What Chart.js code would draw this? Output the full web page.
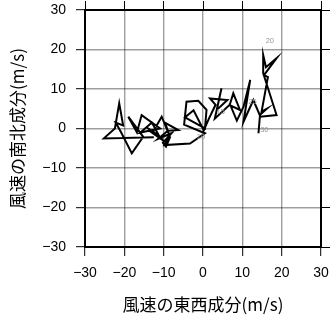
<!DOCTYPE html>
<html><head><meta charset="utf-8">
<script src="https://cdn.jsdelivr.net/npm/chart.js@4"></script>
<style>html,body{margin:0;padding:0;background:#fff}</style>
</head><body>
<canvas id="c" width="331" height="318"></canvas>
<script>
// 風速の東西成分 (u) と南北成分 (v), m/s
const uWind = [-12.5,-25.2,-22.4,-21.3,-20.3,-22.2,-20.8,-18.1,-15.2,-19.0,-16.8,-15.6,-10.9,-15.9,-13.0,-11.2,-14.2,-10.2,-13.6,-9.6,-12.8,-10.5,-8.6,-9.6,-6.3,-9.0,-11.4,-8.0,-10.2,-9.4,-8.3,-9.8,-3.3,0.5,-4.8,-4.2,-1.2,0.9,0.5,-4.6,-2.4,0.2,1.5,3.2,1.8,6.2,3.5,4.7,3.0,6.8,7.7,9.4,7.0,8.6,10.3,12.0,10.3,12.8,14.6,18.7,15.3,15.3,16.0,18.7,15.5,16.5,14.9,16.2,14.5,14.1];
const vWind = [-2.2,-2.5,0.0,6.4,0.8,1.5,-1.0,-6.3,-2.1,3.0,-1.0,3.4,0.0,-1.0,1.5,-1.8,0.2,-2.8,-0.6,-3.4,-1.0,3.0,-1.6,1.4,-0.4,-0.6,-2.6,-1.2,-3.6,-4.6,-2.0,-4.2,-3.8,-1.2,1.0,6.8,7.0,4.7,0.0,2.8,4.6,-0.5,2.5,6.0,7.6,7.2,4.7,10.2,2.5,6.0,8.9,4.7,5.8,2.0,5.5,12.3,1.7,7.2,3.0,3.4,14.0,18.6,15.5,17.8,13.5,13.0,4.3,5.0,3.5,-1.2];
const tickValues = [-30,-20,-10,0,10,20,30];
const markText = ['10','15','20','25','30'];
const markU = [-0.5,4.5,17.0,12.6,15.6];
const markV = [-2.2,4.2,22.2,6.8,-0.4];

const points = uWind.map((u,i)=>({x:u,y:vWind[i]}));
const fmt = v => String(v).replace('-', '\u2212');

const markPlugin = {
  id:'marks',
  afterDatasetsDraw(chart){
    const {ctx, scales:{x,y}} = chart;
    ctx.save();
    ctx.font = '7.5px "Liberation Sans"';
    ctx.fillStyle = '#999';
    ctx.textAlign = 'center';
    ctx.textBaseline = 'middle';
    markText.forEach((t,i)=>ctx.fillText(t, x.getPixelForValue(markU[i]), y.getPixelForValue(markV[i])));
    ctx.restore();
  }
};

const tickFont = {family:'"Liberation Sans", Arial, sans-serif', size:14};
const titleFont = {family:'"Noto Sans CJK JP", sans-serif', size:17};
const mainGrid = {color:'rgba(0,0,0,0.38)', lineWidth:1.4, tickColor:'#000', tickWidth:1, tickLength:9};
const sideGrid = {drawOnChartArea:false, color:'#000', lineWidth:1, tickLength:9};
const border = {display:true, color:'#000', width:2};
const noPad = s => { s.paddingLeft = 0; s.paddingRight = 0; s.paddingTop = 0; s.paddingBottom = 0; };

new Chart(document.getElementById('c'), {
  type:'scatter',
  data:{datasets:[{data:points, showLine:true, borderColor:'#000', borderWidth:2, pointRadius:0, tension:0, fill:false}]},
  options:{
    responsive:false, animation:false, devicePixelRatio:1,
    layout:{padding:0},
    plugins:{legend:{display:false}, tooltip:{enabled:false}},
    scales:{
      x:{type:'linear', position:'bottom', min:-30, max:30,
        afterBuildTicks:s=>{s.ticks = tickValues.map(v=>({value:v}));},
        ticks:{font:tickFont, color:'#000', padding:9, maxRotation:0, autoSkip:false, callback:fmt},
        grid:mainGrid, border:border,
        title:{display:true, text:'風速の東西成分(m/s)', font:titleFont, color:'#000', padding:{top:0,bottom:3}},
        afterFit:s=>{s.height = 71; noPad(s);}},
      y:{type:'linear', position:'left', min:-30, max:30,
        afterBuildTicks:s=>{s.ticks = tickValues.map(v=>({value:v}));},
        ticks:{font:tickFont, color:'#000', padding:10, autoSkip:false, callback:fmt},
        grid:mainGrid, border:border,
        title:{display:true, text:'風速の南北成分(m/s)', font:titleFont, color:'#000', padding:{top:7,bottom:0}},
        afterFit:s=>{s.width = 85; noPad(s);}},
      x2:{type:'linear', position:'top', min:-30, max:30,
        afterBuildTicks:s=>{s.ticks = tickValues.map(v=>({value:v}));},
        ticks:{display:false}, grid:sideGrid, border:border,
        afterFit:s=>{s.height = 10; noPad(s);}},
      y2:{type:'linear', position:'right', min:-30, max:30,
        afterBuildTicks:s=>{s.ticks = tickValues.map(v=>({value:v}));},
        ticks:{display:false}, grid:sideGrid, border:border,
        afterFit:s=>{s.width = 10; noPad(s);}}
    }
  },
  plugins:[markPlugin]
});
</script>
</body></html>
